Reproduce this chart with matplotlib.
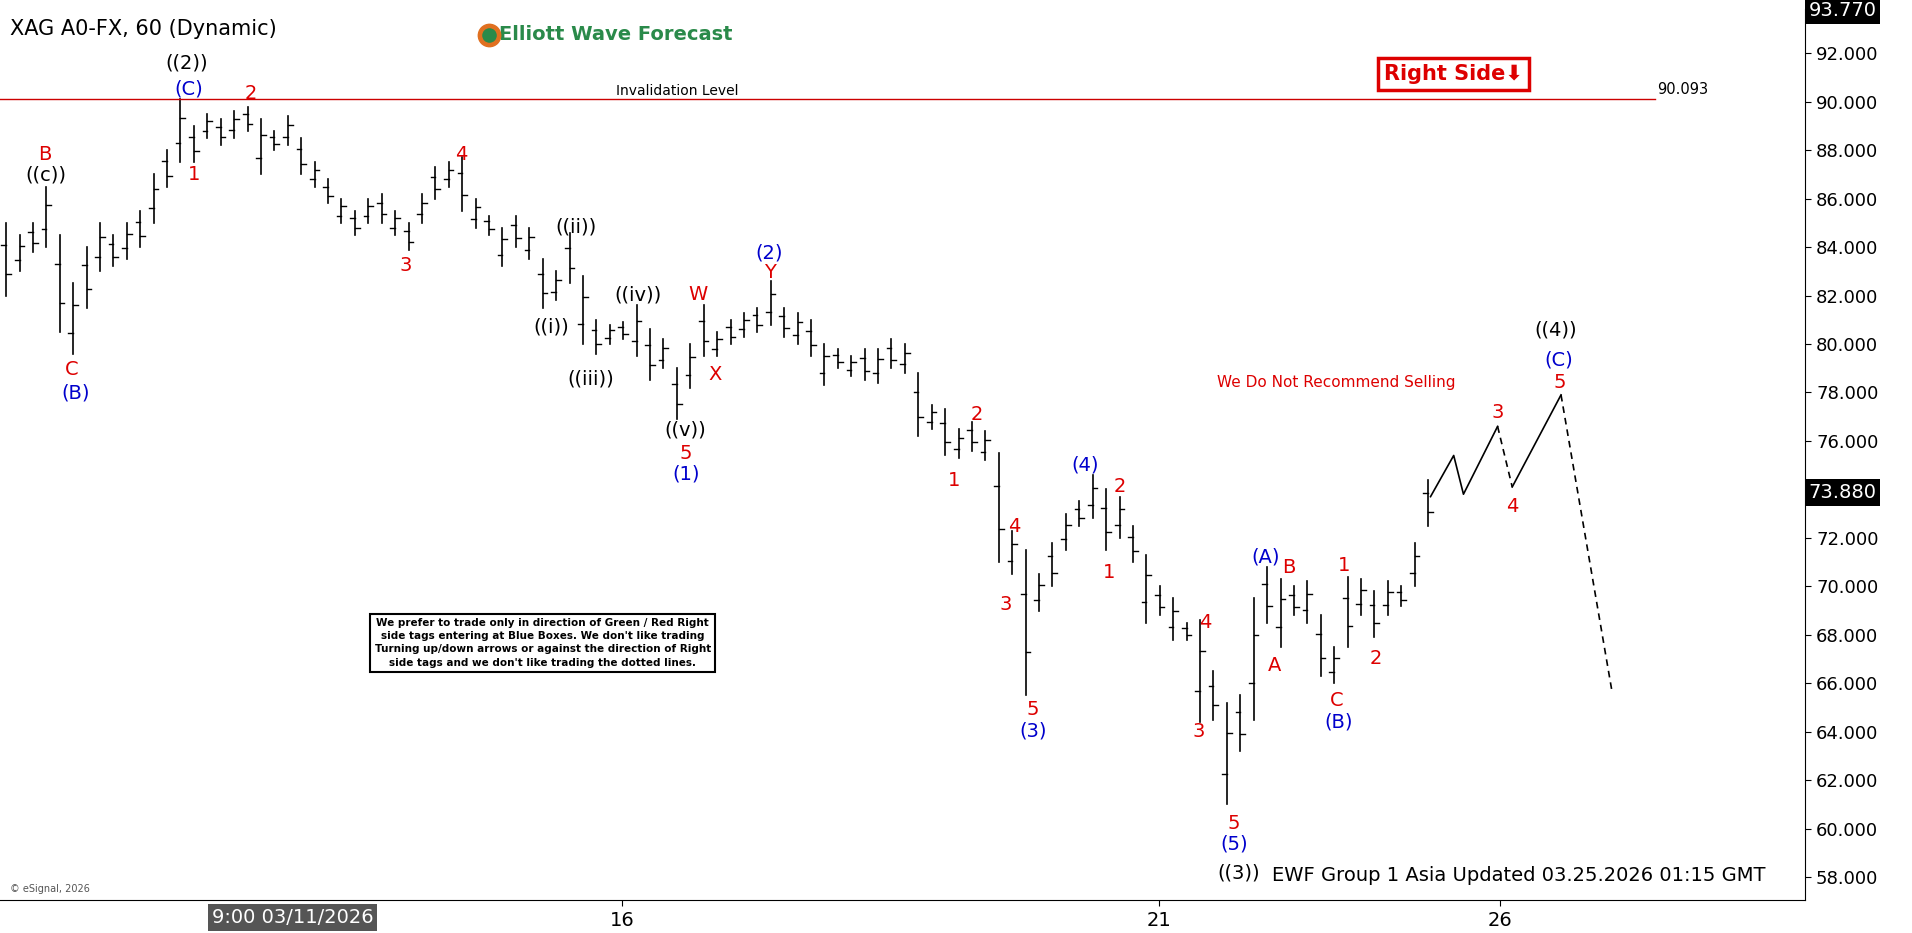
import matplotlib
matplotlib.use("Agg")
import matplotlib.pyplot as plt

highs = [85,84.5,85,86.5,84.5,82.5,84,85,84.5,85,85.5,87,88,90.1,89,89.5,89.3,89.6,89.8,89.3,88.8,89.4,88.5,87.5,86.8,86,85.5,86,86.2,85.5,85,86.2,87.3,87.5,87.7,86,85.3,84.8,85.3,84.8,83.5,83,84.6,82.8,81,80.8,80.9,81.6,80.6,80.2,79,80,81.6,80.5,81,81.3,81.5,82.6,81.5,81.3,81,80,79.8,79.5,79.8,79.8,80.2,80,78.8,77.5,77.3,76.5,76.8,76.4,75.5,72.3,71.5,70.5,71.8,73,73.5,74.6,74,73.7,72.5,71.3,70,69.5,68.5,68.6,66.5,65.2,65.5,69.5,70.8,70.3,70,70.2,68.8,67.5,70.4,70.3,69.8,70.2,70,71.8,74.4]
lows = [82,83,83.8,84,80.5,79.6,81.5,83,83.2,83.5,84,85,86.5,87.5,87.5,88.5,88.2,88.5,88.8,87,88,88.2,87,86.5,85.8,85,84.5,85,85,84.5,83.9,85,86,86.5,85.5,84.8,84.5,83.2,84,83.5,81.5,81.8,82.5,80,79.6,80,80.2,79.5,78.5,79,76.9,78.2,79.5,79.5,80,80.3,80.5,80.8,80.3,80,79.5,78.3,79,78.7,78.5,78.4,79,78.8,76.2,76.5,75.4,75.3,75.6,75.2,71,70.5,65.5,69,70,71.5,72.5,72.8,71.5,72,71,68.5,68.8,67.8,67.8,64.4,64.5,61,63.2,64.5,68.5,67.5,68.8,68.5,66.3,66,67.5,68.8,67.9,68.8,69.2,70,72.5]
last_price = 73.88
invalidation = 90.093
yticks = [58,60,62,64,66,68,70,72,76,78,80,82,84,86,88,90,92]

def P(px): return (px - 5) / 11.0
def Y(y): return 92 - (y - 44) / 19.85

fig = plt.figure(figsize=(19.12, 9.33), dpi=100)
ax = fig.add_axes([0.0, 0.035, 0.944, 0.955])
ax.set_xlim(P(0), P(1480))
ax.set_ylim(Y(738), Y(8))

for i, (h, l) in enumerate(zip(highs, lows)):
    ax.plot([i, i], [l, h], color="black", lw=1.2)
    o = l + (h - l) * (0.3 if i % 2 else 0.7)
    c = l + (h - l) * (0.7 if i % 2 else 0.3)
    ax.plot([i - 0.35, i], [o, o], color="black", lw=1.0)
    ax.plot([i, i + 0.35], [c, c], color="black", lw=1.0)

proj = [(1173, 73.7), (1192, 75.4), (1200, 73.8), (1228, 76.6)]
ax.plot([P(a) for a, b in proj], [b for a, b in proj], color="black", lw=1.2)
ax.plot([P(1228), P(1240)], [76.6, 74.1], color="black", lw=1.2, ls=(0, (4, 3)))
ax.plot([P(1240), P(1280)], [74.1, 77.9], color="black", lw=1.2)
ax.plot([P(1280), P(1322)], [77.9, 65.6], color="black", lw=1.2, ls=(0, (4, 3)))

ax.plot([P(0), P(1357)], [invalidation, invalidation], color="#cc0000", lw=1)
ax.text(P(555), invalidation + 0.05, "Invalidation Level", fontsize=10, ha="center", va="bottom")
ax.text(P(1380), invalidation + 0.1, "90.093", fontsize=10.5, ha="center", va="bottom")

labels = [
 ("((2))",153,52,"black"),("((c))",38,144,"black"),("((i))",452,268,"black"),("((ii))",472,186,"black"),
 ("((iii))",484,311,"black"),("((iv))",523,242,"black"),("((v))",562,353,"black"),("((3))",1016,716,"black"),("((4))",1276,271,"black"),
 ("(C)",155,73,"#0000cc"),("(B)",62,322,"#0000cc"),("(2)",631,208,"#0000cc"),("(1)",563,389,"#0000cc"),("(4)",890,381,"#0000cc"),
 ("(3)",847,599,"#0000cc"),("(A)",1038,457,"#0000cc"),("(5)",1012,692,"#0000cc"),("(B)",1098,592,"#0000cc"),("(C)",1278,295,"#0000cc"),
 ("2",206,77,"#dd0000"),("B",37,127,"#dd0000"),("C",59,303,"#dd0000"),("1",159,143,"#dd0000"),("4",378,127,"#dd0000"),("3",333,218,"#dd0000"),
 ("W",572,242,"#dd0000"),("X",586,307,"#dd0000"),("Y",631,224,"#dd0000"),("5",562,372,"#dd0000"),("2",801,340,"#dd0000"),("1",782,394,"#dd0000"),
 ("4",832,432,"#dd0000"),("3",825,496,"#dd0000"),("5",847,582,"#dd0000"),("2",918,399,"#dd0000"),("1",909,469,"#dd0000"),("4",988,510,"#dd0000"),
 ("3",983,600,"#dd0000"),("5",1012,675,"#dd0000"),("B",1057,465,"#dd0000"),("A",1045,546,"#dd0000"),("1",1102,464,"#dd0000"),("C",1096,574,"#dd0000"),
 ("2",1128,540,"#dd0000"),("3",1228,338,"#dd0000"),("4",1240,415,"#dd0000"),("5",1279,314,"#dd0000"),
]
for t, px, y, col in labels:
    ax.text(P(px), Y(y), t, color=col, fontsize=14, ha="center", va="center")

ax.text(P(1096), Y(314), "We Do Not Recommend Selling", color="#dd0000", fontsize=11, ha="center", va="center")
ax.text(P(1192), Y(61), "Right Side\u2b07", color="#dd0000", fontsize=15, fontweight="bold", ha="center", va="center",
        bbox=dict(boxstyle="square,pad=0.3", fc="white", ec="#dd0000", lw=2.5))
ax.text(P(8), Y(24), "XAG A0-FX, 60 (Dynamic)", fontsize=15, ha="left", va="center")
ax.text(P(505), Y(29), "Elliott Wave Forecast", fontsize=14, fontweight="bold", color="#2a8a4a", ha="center", va="center")
ax.scatter([P(401)], [Y(29)], s=260, color="#e07020", zorder=3)
ax.scatter([P(401)], [Y(29)], s=90, color="#2a8a4a", zorder=4)
ax.text(P(1245), Y(718), "EWF Group 1 Asia Updated 03.25.2026 01:15 GMT", fontsize=14, ha="center", va="center")
ax.text(P(445), Y(527), "We prefer to trade only in direction of Green / Red Right\nside tags entering at Blue Boxes. We don't like trading\nTurning up/down arrows or against the direction of Right\nside tags and we don't like trading the dotted lines.",
        fontsize=7.5, fontweight="bold", ha="center", va="center", linespacing=1.4,
        bbox=dict(boxstyle="square,pad=0.4", fc="white", ec="black", lw=1.5))
ax.text(P(8), Y(729), "© eSignal, 2026", fontsize=7, color="#555555", ha="left", va="center")

ax.yaxis.tick_right()
ax.set_yticks(yticks)
ax.set_yticklabels([f"{v:.3f}" for v in yticks], fontsize=13)
ax.tick_params(axis="y", length=4, pad=4)
xt = [P(510), P(950), P(1230)]
ax.set_xticks(xt)
ax.set_xticklabels(["16", "21", "26"], fontsize=14)
ax.tick_params(axis="x", length=4)
fig.text(0.153, 0.017, "9:00 03/11/2026", fontsize=14, color="white", ha="center", va="center",
         bbox=dict(boxstyle="square,pad=0.2", fc="#555555", ec="none"))
for sp in ["top", "left"]:
    ax.spines[sp].set_visible(False)
ax.text(1.002, last_price, "73.880", transform=ax.get_yaxis_transform(), fontsize=14, color="white", va="center",
        ha="left", bbox=dict(boxstyle="square,pad=0.2", fc="black", ec="none"))
ax.text(1.002, 93.77, "93.770", transform=ax.get_yaxis_transform(), fontsize=14, color="white", va="center",
        ha="left", bbox=dict(boxstyle="square,pad=0.2", fc="black", ec="none"))
fig.savefig("out.png", dpi=100)
